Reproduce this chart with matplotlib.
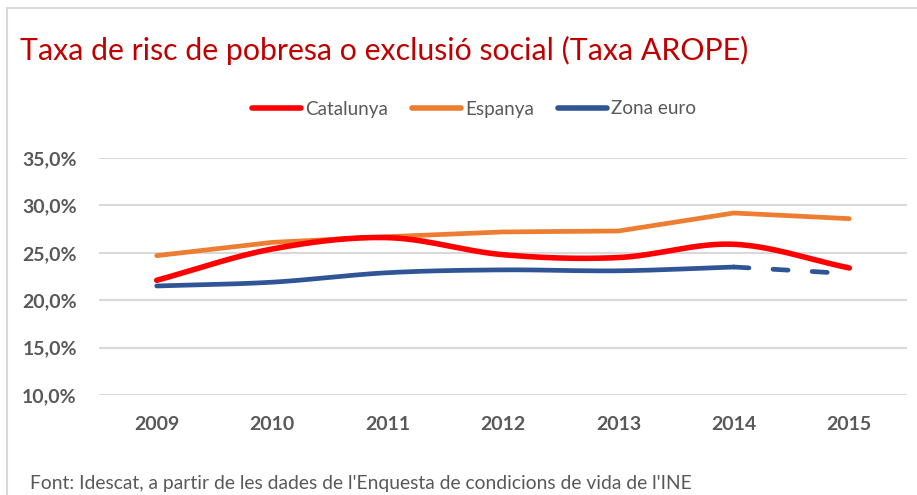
import numpy as np
import matplotlib.pyplot as plt
from matplotlib.lines import Line2D
from matplotlib.patches import Rectangle

years = ["2009", "2010", "2011", "2012", "2013", "2014", "2015"]
catalunya = [22.1, 25.4, 26.6, 24.8, 24.5, 25.9, 23.4]
espanya = [24.7, 26.1, 26.7, 27.2, 27.3, 29.2, 28.6]
zona_euro = [21.5, 21.9, 22.9, 23.2, 23.1, 23.5, 22.8]
y_ticks = [10, 15, 20, 25, 30, 35]

title = "Taxa de risc de pobresa o exclusió social (Taxa AROPE)"
source = "Font: Idescat, a partir de les dades de l'Enquesta de condicions de vida de l'INE"

RED = "#FF0000"
ORANGE = "#ED7D31"
BLUE = "#2F5597"
GREY = "#595959"
GRID = "#D9D9D9"

plt.rcParams["font.family"] = ["Lato", "DejaVu Sans"]


def smooth(xs, ys, n=30):
    """Catmull-Rom style curve through the points, like a smoothed office chart line."""
    xs = np.asarray(xs, float)
    ys = np.asarray(ys, float)
    px = np.concatenate([[2 * xs[0] - xs[1]], xs, [2 * xs[-1] - xs[-2]]])
    py = np.concatenate([[2 * ys[0] - ys[1]], ys, [2 * ys[-1] - ys[-2]]])
    out_x, out_y = [], []
    t = np.linspace(0, 1, n)
    for i in range(1, len(px) - 2):
        p0, p1, p2, p3 = py[i - 1], py[i], py[i + 1], py[i + 2]
        c1 = p1 + (p2 - p0) / 6
        c2 = p2 - (p3 - p1) / 6
        q0, q1, q2, q3 = px[i - 1], px[i], px[i + 1], px[i + 2]
        d1 = q1 + (q2 - q0) / 6
        d2 = q2 - (q3 - q1) / 6
        bx = (1 - t) ** 3 * q1 + 3 * (1 - t) ** 2 * t * d1 + 3 * (1 - t) * t ** 2 * d2 + t ** 3 * q2
        by = (1 - t) ** 3 * p1 + 3 * (1 - t) ** 2 * t * c1 + 3 * (1 - t) * t ** 2 * c2 + t ** 3 * p2
        out_x.extend(bx)
        out_y.extend(by)
    return np.array(out_x), np.array(out_y)


fig = plt.figure(figsize=(9.17, 4.95), dpi=100)
W, H = 917, 495

# light frame around the chart area
fig.patches.append(Rectangle((7 / W, -0.1), 1.2, 1 - 8 / H + 0.1, transform=fig.transFigure,
                             fill=False, edgecolor=GRID, lw=1.5))

ax = fig.add_axes([99 / W, 1 - 395 / H, 808 / W, 237 / H])
x = np.arange(len(years))

ax.plot(x, espanya, color=ORANGE, lw=3.4, solid_capstyle="round", solid_joinstyle="round", zorder=3)
cx, cy = smooth(x, catalunya)
ax.plot(cx, cy, color=RED, lw=4.0, solid_capstyle="round", zorder=4)
zx, zy = smooth(x[:6], zona_euro[:6])
ax.plot(zx, zy, color=BLUE, lw=3.4, solid_capstyle="round", zorder=3)
ax.plot(x[5:], zona_euro[5:], color=BLUE, lw=3.4, ls=(0, (3.2, 5.1)),
        dash_capstyle="round", zorder=3)

ax.set_xlim(-0.5, len(years) - 0.5)
ax.set_ylim(10, 35)
ax.set_yticks(y_ticks)
ax.set_yticklabels([f"{v:.1f}%".replace(".", ",") for v in y_ticks])
ax.set_xticks(x)
ax.set_xticklabels(years)
ax.grid(axis="y", color=GRID, lw=1.5)
ax.set_axisbelow(True)
for s in ax.spines.values():
    s.set_visible(False)
ax.tick_params(length=0, labelsize=14, labelcolor=GREY)
ax.tick_params(axis="y", pad=16)
ax.tick_params(axis="x", pad=15)
for lbl in ax.get_xticklabels() + ax.get_yticklabels():
    lbl.set_fontweight("bold")

fig.text(20 / W, 1 - 60 / H, title, color="#C00000", fontsize=21.8, ha="left", va="baseline")

handles = [
    Line2D([], [], color=RED, lw=4, solid_capstyle="round"),
    Line2D([], [], color=ORANGE, lw=4, solid_capstyle="round"),
    Line2D([], [], color=BLUE, lw=4, solid_capstyle="round"),
]
fig.legend(handles, ["Catalunya", "Espanya", "Zona euro"], loc="center",
           bbox_to_anchor=(474 / W, 1 - 109 / H), ncol=3, frameon=False,
           fontsize=13.6, labelcolor=GREY, handlelength=2.6, handletextpad=0.2,
           columnspacing=1.3)

fig.text(30 / W, 1 - 489 / H, source, color=GREY, fontsize=13.9, ha="left", va="baseline")

fig.savefig("out.png", dpi=100, facecolor="white")
